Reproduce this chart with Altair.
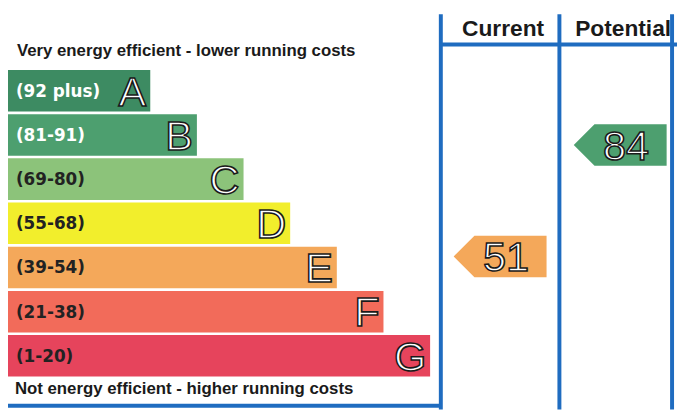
import altair as alt
import pandas as pd

# ---------------- data ----------------
bands = ["A", "B", "C", "D", "E", "F", "G"]
range_labels = ["(92 plus)", "(81-91)", "(69-80)", "(55-68)", "(39-54)", "(21-38)", "(1-20)"]
band_low = [92, 81, 69, 55, 39, 21, 1]
band_high = [100, 91, 80, 68, 54, 38, 20]
band_colors = ["#3d8b62", "#4d9f6f", "#8cc37a", "#f2ee2c", "#f4a85a", "#f26b5a", "#e6445c"]
label_colors = ["#ffffff", "#ffffff", "#222222", "#222222", "#222222", "#222222", "#222222"]

columns = ["Current", "Potential"]
ratings = [51, 84]

top_note = "Very energy efficient - lower running costs"
bottom_note = "Not energy efficient - higher running costs"

# ---------------- layout (styling only) ----------------
W, H = 677, 404
STEP = 47.2          # px per band step (bar length growth)
ROW = 44.7           # px per band row
Y0 = 1.32            # rows of space above band A
COL_CENTERS_PX = [498, 619.5]
BLUE = "#1f6cc0"
FONT = "Liberation Sans"

xs = alt.Scale(domain=[0, W / STEP], nice=False, zero=False)
ys = alt.Scale(domain=[-Y0, H / ROW - Y0], reverse=True, nice=False, zero=False)

band_df = pd.DataFrame({
    "band": bands, "range": range_labels, "lo": band_low, "hi": band_high,
    "color": band_colors, "tcolor": label_colors, "idx": list(range(len(bands))),
})
band_df["x0"] = 0.0
band_df["x1"] = band_df["idx"] + 3.05
band_df["y0"] = band_df["idx"] + 0.03
band_df["y1"] = band_df["idx"] + 0.97
band_df["ym"] = band_df["idx"] + 0.5

rows = []
for c, v, cx in zip(columns, ratings, COL_CENTERS_PX):
    i = next(k for k in range(len(bands)) if band_low[k] <= v <= band_high[k])
    pos = i + (band_high[i] + 1 - v) / (band_high[i] - band_low[i] + 1)
    rows.append({"column": c, "value": v, "color": band_colors[i],
                 "x": cx / STEP, "y": pos})
arrow_df = pd.DataFrame(rows)

X = lambda f: alt.X(f, type="quantitative", scale=xs, axis=None)
Y = lambda f: alt.Y(f, type="quantitative", scale=ys, axis=None)

bars = alt.Chart(band_df).mark_rect().encode(
    x=X("x0"), x2="x1", y=Y("y0"), y2="y1",
    color=alt.Color("color:N", scale=None),
)

range_text = alt.Chart(band_df).mark_text(
    align="left", baseline="middle", dx=8, dy=1, fontSize=17, fontWeight="bold", font="DejaVu Sans"
).encode(x=X("x0"), y=Y("ym"), text="range:N", color=alt.Color("tcolor:N", scale=None))

letters = alt.Chart(band_df).mark_text(
    align="right", baseline="middle", dx=-4, dy=2, fontSize=42, font=FONT,
    fill="#ffffff", stroke="#1a1a1a", strokeWidth=1.6
).encode(x=X("x1"), y=Y("ym"), text="band:N")

arrow_path = "M-1,0L-0.553,-0.447L1,-0.447L1,0.447L-0.553,0.447Z"
arrows = alt.Chart(arrow_df).mark_point(
    shape=arrow_path, size=8836, filled=True, opacity=1, strokeWidth=0
).encode(x=X("x"), y=Y("y"), color=alt.Color("color:N", scale=None))

arrow_nums = alt.Chart(arrow_df).mark_text(
    align="center", baseline="middle", dx=6, dy=2, fontSize=42, font=FONT,
    fill="#ffffff", stroke="#1a1a1a", strokeWidth=1.6
).encode(x=X("x"), y=Y("y"), text="value:Q")

headers = alt.Chart(pd.DataFrame({"column": columns, "x": [c / STEP for c in COL_CENTERS_PX]})).mark_text(
    align="center", baseline="alphabetic", dx=3, fontSize=23, fontWeight="bold", font=FONT, color="#1a1a1a"
).encode(x=X("x"), y=alt.value(26), text="column:N")

one = pd.DataFrame({"k": [0]})
def rule(x1, y1, x2, y2):
    return alt.Chart(one).mark_rule(color=BLUE, strokeWidth=4).encode(
        x=alt.value(x1), y=alt.value(y1), x2=alt.value(x2), y2=alt.value(y2))

lines = [
    rule(438, 4, 438, 404),
    rule(558, 4, 558, 404),
    rule(672, 4, 672, 404),
    rule(438, 34.5, 677, 34.5),
    rule(0, 400, 438, 400),
]

notes = alt.Chart(pd.DataFrame({"note": [top_note, bottom_note], "y": [46, 388], "x": [9, 7]})).mark_text(
    align="left", baseline="alphabetic", fontSize=17, fontWeight="bold", font=FONT, color="#1a1a1a"
).encode(x=alt.X("x:Q", scale=None, axis=None), y=alt.Y("y:Q", scale=None, axis=None), text="note:N")

chart = alt.layer(bars, range_text, letters, *lines, arrows, arrow_nums, headers, notes).properties(
    width=W, height=H, autosize=alt.AutoSizeParams(type="none"), padding=0, background="white"
).configure_view(stroke=None)

chart.save("out.html", embed_options={"renderer": "svg", "actions": False})
